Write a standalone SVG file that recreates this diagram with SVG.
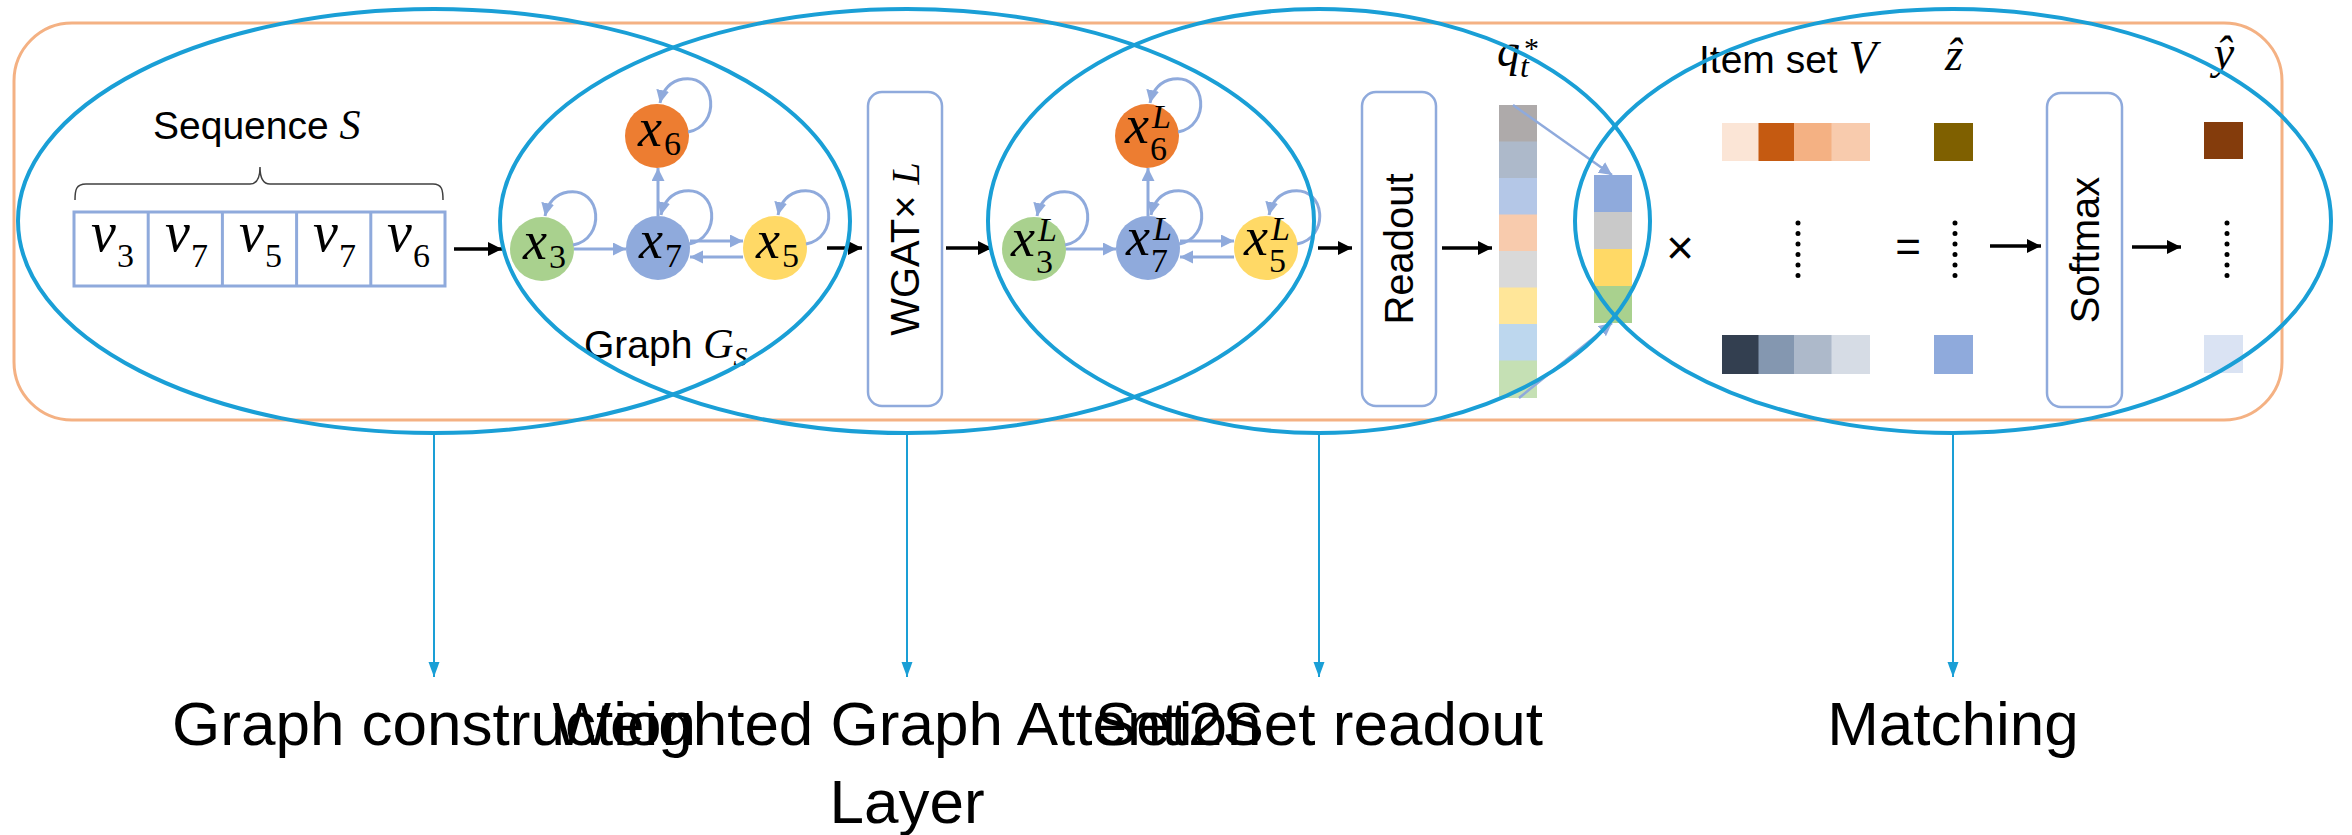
<svg xmlns="http://www.w3.org/2000/svg" width="2352" height="835" viewBox="0 0 2352 835">
<style>
.sans{font-family:"Liberation Sans",Arial,sans-serif;fill:#000}
.lbl{font-size:39px}
.big{font-size:62px;text-anchor:middle}
.m{font-family:"Liberation Serif","DejaVu Serif",serif;font-style:italic;fill:#000}
.mn{font-family:"Liberation Serif","DejaVu Serif",serif;fill:#000}
.edge{fill:none;stroke:#8FAADC;stroke-width:3;marker-end:url(#ab)}
.blk{fill:none;stroke:#000;stroke-width:3.5;marker-end:url(#ak)}
.bl{fill:none;stroke:#1A9FD6;stroke-width:2;marker-end:url(#ac)}
.ell{fill:none;stroke:#1A9FD6;stroke-width:4}
.box{fill:#fff;stroke:#8FAADC;stroke-width:2.5}
.dots{stroke:#000;stroke-width:5;stroke-linecap:round;stroke-dasharray:0.1 10.4}
.rot{font-size:40px;text-anchor:middle}
</style>
<defs>
<marker id="ab" markerUnits="userSpaceOnUse" markerWidth="14" markerHeight="14" refX="13" refY="6.5" orient="auto"><path d="M0,0 L13,6.5 L0,13 z" fill="#8FAADC"/></marker>
<marker id="ak" markerUnits="userSpaceOnUse" markerWidth="16" markerHeight="16" refX="14" refY="7" orient="auto"><path d="M0,0 L14,7 L0,14 z" fill="#000"/></marker>
<marker id="ac" markerUnits="userSpaceOnUse" markerWidth="16" markerHeight="12" refX="15" refY="5.5" orient="auto"><path d="M0,0 L15,5.5 L0,11 z" fill="#1A9FD6"/></marker>
</defs>
<rect width="2352" height="835" fill="#fff"/>
<rect id="frame" x="14" y="23" width="2268" height="397" rx="58" fill="none" stroke="#F4B183" stroke-width="3"/>

<g id="sequence">
<text class="sans lbl" x="153" y="139">Sequence <tspan class="m" font-size="42">S</tspan></text>
<path d="M75,200 C75,190 76,184 86,184 L250,184 C257,184 260,178 260,167 C260,178 263,184 270,184 L433,184 C442,184 443,190 443,200" fill="none" stroke="#404040" stroke-width="1.5"/>
<rect x="74" y="212" width="371" height="74" fill="#fff" stroke="#8FAADC" stroke-width="3"/>
<path d="M148.2,212 V286 M222.4,212 V286 M296.6,212 V286 M370.8,212 V286" stroke="#8FAADC" stroke-width="3"/>
<text class="m" x="91" y="251" font-size="56">v</text><text class="mn" x="117" y="267" font-size="34">3</text>
<text class="m" x="165" y="251" font-size="56">v</text><text class="mn" x="191" y="267" font-size="34">7</text>
<text class="m" x="239" y="251" font-size="56">v</text><text class="mn" x="265" y="267" font-size="34">5</text>
<text class="m" x="313" y="251" font-size="56">v</text><text class="mn" x="339" y="267" font-size="34">7</text>
<text class="m" x="387" y="251" font-size="56">v</text><text class="mn" x="413" y="267" font-size="34">6</text>
</g>

<g id="graph1">
<circle cx="657" cy="136" r="32" fill="#ED7D31"/>
<circle cx="542" cy="249" r="32" fill="#A9D18E"/>
<circle cx="658" cy="248" r="32" fill="#8FAADC"/>
<circle cx="775" cy="248" r="32" fill="#FFD966"/>
<text class="m" x="638" y="146" font-size="54">x</text><text class="mn" x="664" y="155" font-size="34">6</text>
<text class="m" x="523" y="259" font-size="54">x</text><text class="mn" x="549" y="268" font-size="34">3</text>
<text class="m" x="639" y="258" font-size="54">x</text><text class="mn" x="665" y="267" font-size="34">7</text>
<text class="m" x="756" y="258" font-size="54">x</text><text class="mn" x="782" y="267" font-size="34">5</text>
<text class="sans lbl" x="584" y="358">Graph <tspan class="m" font-size="42">G</tspan><tspan class="m" font-size="28" dy="8">S</tspan></text>
</g>

<g id="wgat">
<rect class="box" x="868" y="92" width="74" height="314" rx="14"/>
<text class="sans rot" transform="translate(905,249) rotate(-90)" dy="14">WGAT× <tspan class="m">L</tspan></text>
</g>

<g id="graph2">
<circle cx="1147" cy="136" r="32" fill="#ED7D31"/>
<circle cx="1034" cy="249" r="32" fill="#A9D18E"/>
<circle cx="1148" cy="248" r="32" fill="#8FAADC"/>
<circle cx="1266" cy="248" r="32" fill="#FFD966"/>
<text class="m" x="1125" y="143" font-size="54">x</text><text class="m" x="1152" y="128" font-size="34">L</text><text class="mn" x="1150" y="160" font-size="34">6</text>
<text class="m" x="1011" y="256" font-size="54">x</text><text class="m" x="1038" y="241" font-size="34">L</text><text class="mn" x="1036" y="273" font-size="34">3</text>
<text class="m" x="1126" y="255" font-size="54">x</text><text class="m" x="1153" y="240" font-size="34">L</text><text class="mn" x="1151" y="272" font-size="34">7</text>
<text class="m" x="1244" y="255" font-size="54">x</text><text class="m" x="1271" y="240" font-size="34">L</text><text class="mn" x="1269" y="272" font-size="34">5</text>
</g>

<g id="readout">
<rect class="box" x="1362" y="92" width="74" height="314" rx="14"/>
<text class="sans rot" transform="translate(1399,249) rotate(-90)" dy="14">Readout</text>
</g>

<g id="qvec">
<rect x="1499" y="105" width="38" height="37" fill="#AEAAAA"/>
<rect x="1499" y="141.5" width="38" height="37" fill="#ADB9CA"/>
<rect x="1499" y="178" width="38" height="37" fill="#B4C7E7"/>
<rect x="1499" y="214.5" width="38" height="37" fill="#F8CBAD"/>
<rect x="1499" y="251" width="38" height="37" fill="#D9D9D9"/>
<rect x="1499" y="287.5" width="38" height="37" fill="#FFE699"/>
<rect x="1499" y="324" width="38" height="37" fill="#BDD7EE"/>
<rect x="1499" y="360.5" width="38" height="37.5" fill="#C5E0B4"/>
<text class="m" x="1497" y="66" font-size="46">q<tspan font-size="32" dy="11">t</tspan></text><text class="mn" x="1524" y="58" font-size="30">*</text>
</g>

<g id="svec">
<rect x="1594" y="175" width="38" height="37" fill="#8FAADC"/>
<rect x="1594" y="212" width="38" height="37" fill="#C9C9C9"/>
<rect x="1594" y="249" width="38" height="37" fill="#FFD966"/>
<rect x="1594" y="286" width="38" height="37" fill="#A9D18E"/>
<text class="sans" x="1680" y="264" font-size="48" text-anchor="middle">×</text>
</g>

<g id="itemset">
<text class="sans lbl" x="1699" y="73">Item set <tspan class="m" font-size="46">V</tspan></text>
<rect x="1722" y="123" width="37" height="38" fill="#FBE5D6"/>
<rect x="1758.5" y="123" width="36" height="38" fill="#C55A11"/>
<rect x="1794" y="123" width="38" height="38" fill="#F4B183"/>
<rect x="1831.5" y="123" width="38.5" height="38" fill="#F8CBAD"/>
<rect x="1722" y="335" width="37" height="39" fill="#333F50"/>
<rect x="1758.5" y="335" width="36" height="39" fill="#8497B0"/>
<rect x="1794" y="335" width="38" height="39" fill="#ADB9CA"/>
<rect x="1831.5" y="335" width="38.5" height="39" fill="#D6DCE5"/>
<line class="dots" x1="1798" y1="223" x2="1798" y2="276"/>
<text class="sans" x="1908" y="262" font-size="44" text-anchor="middle">=</text>
</g>

<g id="zhat">
<text class="m" x="1954" y="70" font-size="46" text-anchor="middle">ẑ</text>
<rect x="1934" y="123" width="39" height="38" fill="#7F6000"/>
<line class="dots" x1="1955" y1="223" x2="1955" y2="276"/>
<rect x="1934" y="335" width="39" height="39" fill="#8FAADC"/>
</g>

<g id="softmax">
<rect class="box" x="2047" y="93" width="75" height="314" rx="14"/>
<text class="sans rot" transform="translate(2084.5,250) rotate(-90)" dy="14">Softmax</text>
</g>

<g id="yhat">
<text class="m" x="2224" y="68" font-size="46" text-anchor="middle">ŷ</text>
<rect x="2204" y="122" width="39" height="37" fill="#843C0C"/>
<line class="dots" x1="2227" y1="223" x2="2227" y2="276"/>
<rect x="2204" y="335" width="39" height="38" fill="#DAE3F3"/>
</g>

<g id="connectors">
<path class="edge" d="M688,132 C721,126 717,74 683,79 C671,81 663,89 660,103"/>
<path class="edge" d="M573,245 C606,239 602,187 568,192 C556,194 548,202 545,216"/>
<path class="edge" d="M689,244 C722,238 718,186 684,191 C672,193 664,201 661,215"/>
<path class="edge" d="M806,244 C839,238 835,186 801,191 C789,193 781,201 778,215"/>
<path class="edge" d="M574,249 L626,249"/>
<path class="edge" d="M690,241 L743,241"/>
<path class="edge" d="M743,257 L690,257"/>
<path class="edge" d="M658,216 L658,168"/>
<path class="edge" d="M1178,132 C1211,126 1207,74 1173,79 C1161,81 1153,89 1150,103"/>
<path class="edge" d="M1065,245 C1098,239 1094,187 1060,192 C1048,194 1040,202 1037,216"/>
<path class="edge" d="M1179,244 C1212,238 1208,186 1174,191 C1162,193 1154,201 1151,215"/>
<path class="edge" d="M1297,244 C1330,238 1326,186 1292,191 C1280,193 1272,201 1269,215"/>
<path class="edge" d="M1066,249 L1116,249"/>
<path class="edge" d="M1180,241 L1234,241"/>
<path class="edge" d="M1234,257 L1180,257"/>
<path class="edge" d="M1148,216 L1148,168"/>
<path class="edge" style="stroke-width:2.5" d="M1513,105 L1612,175"/>
<path class="edge" style="stroke-width:2.5" d="M1519,398 L1612,323"/>
<path class="blk" d="M454,249 L502,249"/>
<path class="blk" d="M827,248 L862,248"/>
<path class="blk" d="M946,248 L992,248"/>
<path class="blk" d="M1318,248 L1352,248"/>
<path class="blk" d="M1442,248 L1492,248"/>
<path class="blk" d="M1990,246 L2041,246"/>
<path class="blk" d="M2132,247 L2181,247"/>
<path class="bl" d="M434,433 L434,677"/>
<path class="bl" d="M907,433 L907,677"/>
<path class="bl" d="M1319,433 L1319,677"/>
<path class="bl" d="M1953,433 L1953,677"/>
</g>

<g id="stages">
<ellipse class="ell" cx="434" cy="221" rx="416" ry="212"/>
<ellipse class="ell" cx="907" cy="221" rx="407" ry="212"/>
<ellipse class="ell" cx="1319" cy="221" rx="331" ry="212"/>
<ellipse class="ell" cx="1953" cy="221" rx="378" ry="212"/>
</g>

<g id="stage-labels">
<text class="sans big" x="434" y="745">Graph construction</text>
<text class="sans big" x="907" y="745">Weighted Graph Attention</text>
<text class="sans big" x="907" y="823">Layer</text>
<text class="sans big" x="1319" y="745">Set2Set readout</text>
<text class="sans big" x="1953" y="745">Matching</text>
</g>
</svg>
